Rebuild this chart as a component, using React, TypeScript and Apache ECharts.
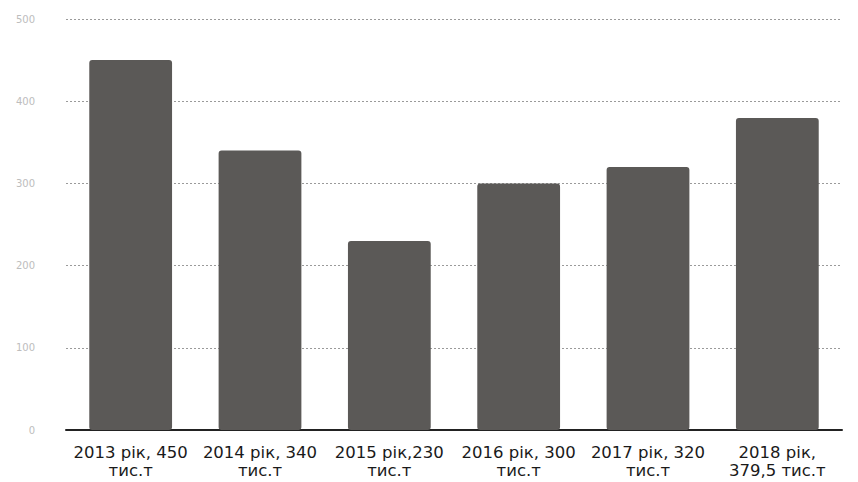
import React, { useEffect, useRef } from "react";
import * as echarts from "echarts";

const categories = [
  "2013 рік, 450\nтис.т",
  "2014 рік, 340\nтис.т",
  "2015 рік,230\nтис.т",
  "2016 рік, 300\nтис.т",
  "2017 рік, 320\nтис.т",
  "2018 рік,\n379,5 тис.т",
];
const values = [450, 340, 230, 300, 320, 379.5];
const yTicks = { min: 0, max: 500, interval: 100 };

export default function App() {
  const ref = useRef<HTMLDivElement>(null);
  useEffect(() => {
    if (!ref.current) return;
    const chart = echarts.init(ref.current, null, { renderer: "svg" });
    chart.setOption({
      animation: false,
      backgroundColor: "#ffffff",
      grid: { left: 66, right: 16, top: 19, bottom: 52, containLabel: false },
      xAxis: {
        type: "category",
        data: categories,
        axisLine: { show: true, lineStyle: { color: "#222", width: 2 } },
        axisTick: { show: false },
        axisLabel: {
          interval: 0,
          margin: 13,
          color: "#1a1a1a",
          fontSize: 16.5,
          lineHeight: 18,
          fontFamily: "DejaVu Sans",
        },
      },
      yAxis: {
        type: "value",
        min: yTicks.min,
        max: yTicks.max,
        interval: yTicks.interval,
        axisLine: { show: false },
        axisTick: { show: false },
        axisLabel: { color: "#bdbdbd", fontSize: 10, margin: 31, fontFamily: "DejaVu Sans" },
        splitLine: { lineStyle: { color: "#9a9a9a", type: [2, 2], width: 1 } },
      },
      series: [
        {
          type: "bar",
          data: values,
          barCategoryGap: "36%",
          itemStyle: { color: "#5b5957", borderRadius: 3 },
        },
      ],
    });
    return () => chart.dispose();
  }, []);
  return (
    <div
      ref={ref}
      style={{ position: "absolute", left: 0, top: 0, width: 858, height: 482 }}
    />
  );
}
